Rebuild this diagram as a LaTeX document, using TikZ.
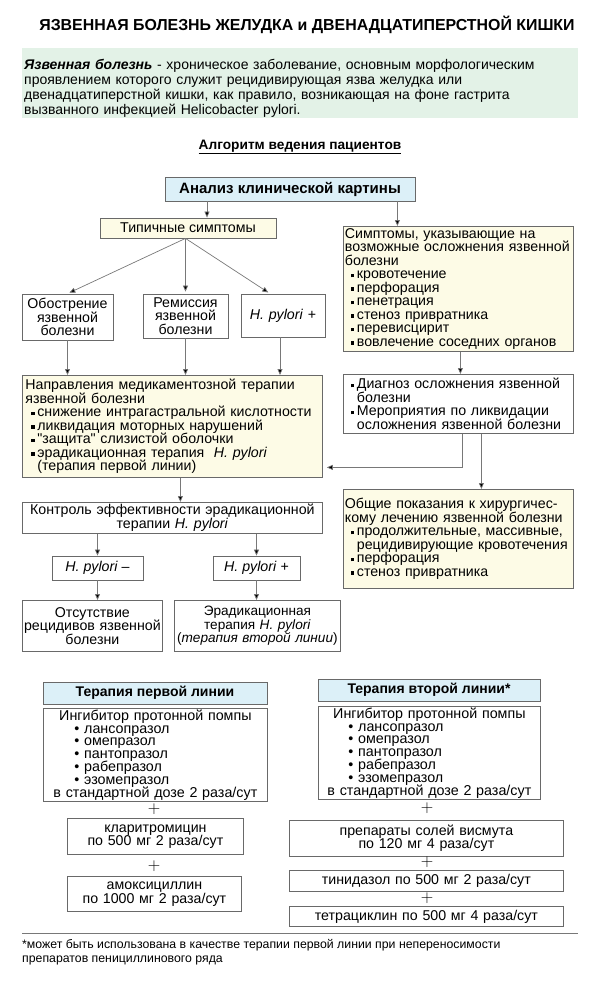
\documentclass[tikz,border=0pt]{standalone}
\usepackage{fontspec}
\setmainfont{Liberation Sans}
\usetikzlibrary{arrows.meta}
\definecolor{palegreen}{RGB}{227,242,231}
\definecolor{paleblue}{RGB}{220,240,248}
\definecolor{paleyellow}{RGB}{253,251,230}
\definecolor{boxgray}{RGB}{105,105,105}
\definecolor{linegray}{RGB}{120,120,120}
\newcommand{\fs}[2]{\fontsize{#1}{#2}\selectfont\lineskiplimit=-20pt\relax}
\newcommand{\sqbul}{\hspace*{6pt}\rule[1.5pt]{3.5pt}{3.5pt}\hspace{2.5pt}}
\newcommand{\indt}{\hspace*{12pt}}
\newcommand{\blt}[1]{\makebox[180pt][l]{\hspace*{9pt}\textbullet~#1}}

\begin{document}
\begin{tikzpicture}[x=1pt, y=-1pt,
    every node/.style={font=\fs{14.2}{13.5}},
    box/.style={draw=boxgray, line width=0.8pt, inner xsep=3pt, inner ysep=2pt},
    yellowbox/.style={box, fill=paleyellow},
    bluebox/.style={box, fill=paleblue, font=\bfseries\fs{14}{14}},
    plus/.style={font=\fs{17}{17}, inner sep=0pt},
    arr/.style={draw=linegray, line width=0.7pt, -{Triangle[length=6pt, width=5pt, fill=black]}}]
    \useasboundingbox (0,0) rectangle (600,982);

    % Title and definition
    \node[font=\bfseries\fs{15.9}{17}] (title) at (307,25)
        {ЯЗВЕННАЯ БОЛЕЗНЬ ЖЕЛУДКА и ДВЕНАДЦАТИПЕРСТНОЙ КИШКИ};
    \node[fill=palegreen, anchor=north west, text width=552pt, inner xsep=2pt, inner ysep=0pt,
          minimum height=70pt, align=left, font=\fs{14}{15}] (intro) at (22,48)
        {\rule{0pt}{21pt}\textbf{\textit{Язвенная болезнь}} - хроническое заболевание, основным морфологическим\\
         проявлением которого служит рецидивирующая язва желудка или\\
         двенадцатиперстной кишки, как правило, возникающая на фоне гастрита\\
         вызванного инфекцией Helicobacter pylori.};
    \node[font=\bfseries\fs{13.7}{14}] (algo) at (300,147)
        {\underline{Алгоритм ведения пациентов}};

    % Algorithm
    \node[bluebox, font=\bfseries\fs{15}{15}, minimum width=250pt, minimum height=24pt] (analiz) at (290,189)
        {Анализ клинической картины};
    \node[yellowbox, minimum width=176pt, minimum height=20pt] (typ) at (188,228)
        {Типичные симптомы};
    \node[yellowbox, anchor=north west, inner xsep=1.5pt, text width=227pt, minimum height=122pt, align=left] (compl) at (343,226)
        {Симптомы, указывающие на\\ возможные осложнения язвенной\\ болезни\\
         \sqbul кровотечение\\ \sqbul перфорация\\ \sqbul пенетрация\\
         \sqbul стеноз привратника\\ \sqbul перевисцирит\\ \sqbul вовлечение соседних органов};

    \node[box, text width=86pt, inner xsep=2.5pt, align=center, minimum height=46pt] (obostr) at (67.5,317)
        {Обострение\\ язвенной\\ болезни};
    \node[box, text width=79pt, align=center, minimum height=44pt] (remis) at (185.5,316)
        {Ремиссия\\ язвенной\\ болезни};
    \node[box, text width=78pt, align=center, minimum height=43pt] (hpA) at (283,315.5)
        {\textit{H. pylori} +};

    \node[yellowbox, anchor=north west, text width=294pt, minimum height=102pt, align=left] (napr) at (22,375)
        {Направления медикаментозной терапии\\ язвенной болезни\\
         \sqbul снижение интрагастральной кислотности\\
         \sqbul ликвидация моторных нарушений\\
         \sqbul \textquotedbl защита\textquotedbl{} слизистой оболочки\\
         \sqbul эрадикационная терапия \ \textit{H. pylori}\\
         \indt(терапия первой линии)};
    \node[box, anchor=north west, inner xsep=1.5pt, text width=227pt, minimum height=59pt, align=left] (diag) at (343,374)
        {\sqbul Диагноз осложнения язвенной\\ \indt болезни\\
         \sqbul Мероприятия по ликвидации\\ \indt осложнения язвенной болезни};
    \node[yellowbox, anchor=north west, inner xsep=1.5pt, text width=227pt, minimum height=99pt, align=left] (obsh) at (343,489)
        {Общие показания к хирургичес-\\ кому лечению язвенной болезни\\
         \sqbul продолжительные, массивные,\\ \indt рецидивирующие кровотечения\\
         \sqbul перфорация\\ \sqbul стеноз привратника};

    \node[box, anchor=north west, text width=294pt, minimum height=31pt, align=center] (kontr) at (22,502)
        {Контроль эффективности эрадикационной\\ терапии \textit{H. pylori}};
    \node[box, minimum width=91pt, minimum height=24pt] (hpminus) at (97.5,568) {\textit{H. pylori} --};
    \node[box, minimum width=87pt, minimum height=24pt] (hpplus) at (256.5,568) {\textit{H. pylori} +};
    \node[box, anchor=north west, inner xsep=1pt, text width=138pt, minimum height=51pt, align=center] (otsut) at (22,600)
        {Отсутствие\\ рецидивов язвенной\\ болезни};
    \node[box, anchor=north west, inner xsep=0pt, text width=166pt, minimum height=51pt, align=center,
          font=\fs{13.6}{13.5}] (erad) at (174,600)
        {Эрадикационная\\ терапия \textit{H. pylori}\\ \mbox{(\textit{терапия второй линии})}};

    % Connectors
    \coordinate (fork) at (typ.south -| remis.north);
    \draw[arr] ([xshift=19pt]typ.north |- analiz.south) -- ([xshift=19pt]typ.north);
    \draw[arr] ([xshift=-61pt]compl.north |- analiz.south) -- ([xshift=-61pt]compl.north);
    \draw[arr, shorten >=2pt] (fork) -- (obostr.north);
    \draw[arr, shorten >=2pt] (fork) -- (remis.north);
    \draw[arr, shorten >=2pt] (fork) -- ([xshift=-13pt]hpA.north);
    \foreach \b in {obostr, remis} {
        \draw[arr] (\b.south) -- (\b.south |- napr.north);
    }
    \draw[arr] ([xshift=-3pt]hpA.south) -- ([xshift=-3pt]hpA.south |- napr.north);
    \draw[arr] ([xshift=2pt]compl.south) -- ([xshift=2pt]diag.north);
    \draw[arr, shorten >=4pt] ([xshift=4pt]diag.south) |- ([yshift=-41pt]napr.east);
    \draw[arr] ([xshift=23pt]diag.south) -- ([xshift=23pt]obsh.north);
    \draw[arr] ([xshift=8pt]napr.south) -- ([xshift=8pt]kontr.north);
    \foreach \b/\c in {hpminus/otsut, hpplus/erad} {
        \draw[arr] (\b.north |- kontr.south) -- (\b.north);
        \draw[arr] (\b.south) -- (\b.south |- \c.north);
    }

    % First line therapy
    \node[bluebox, minimum width=224pt, minimum height=22pt] (first) at (155,693) {Терапия первой линии};
    \node[box, anchor=north west, text width=218pt, minimum height=93pt, inner ysep=1pt, align=center,
          font=\fs{14.3}{12.8}] (ppiA) at (43,708)
        {Ингибитор протонной помпы\\ \blt{лансопразол}\\ \blt{омепразол}\\ \blt{пантопразол}\\
         \blt{рабепразол}\\ \blt{эзомепразол}\\ в стандартной дозе 2 раза/сут};
    \node[plus] (plusA) at (154,809) {$+$};
    \node[box, anchor=north west, text width=170pt, minimum height=36pt, align=center] (klar) at (67,818)
        {кларитромицин\\ по 500 мг 2 раза/сут};
    \node[plus] (plusB) at (154,866) {$+$};
    \node[box, anchor=north west, text width=168pt, minimum height=35pt, align=center] (amox) at (67,876)
        {амоксициллин\\ по 1000 мг 2 раза/сут};

    % Second line therapy
    \node[bluebox, minimum width=222pt, minimum height=22pt] (second) at (429,690) {Терапия второй линии*};
    \node[box, anchor=north west, text width=216pt, minimum height=93pt, inner ysep=1pt, align=center,
          font=\fs{14.3}{12.8}] (ppiB) at (318,706)
        {Ингибитор протонной помпы\\ \blt{лансопразол}\\ \blt{омепразол}\\ \blt{пантопразол}\\
         \blt{рабепразол}\\ \blt{эзомепразол}\\ в стандартной дозе 2 раза/сут};
    \node[plus] (plusC) at (427,808) {$+$};
    \node[box, anchor=north west, text width=268pt, minimum height=36pt, align=center] (vism) at (289,820)
        {препараты солей висмута\\ по 120 мг 4 раза/сут};
    \node[plus] (plusD) at (427,862) {$+$};
    \node[box, anchor=north west, text width=268pt, minimum height=21pt, align=center] (tinid) at (289,870)
        {тинидазол по 500 мг 2 раза/сут};
    \node[plus] (plusE) at (427,898) {$+$};
    \node[box, anchor=north west, text width=268pt, minimum height=20pt, align=center] (tetra) at (289,906)
        {тетрациклин по 500 мг 4 раза/сут};

    % Footnote
    \draw[linegray, line width=0.8pt] (22,933) -- (578,933);
    \node[anchor=north west, align=left, inner xsep=0pt, font=\fs{12.3}{14}] (note) at (22,936)
        {*может быть использована в качестве терапии первой линии при непереносимости\\
         препаратов пенициллинового ряда};
\end{tikzpicture}
\end{document}
